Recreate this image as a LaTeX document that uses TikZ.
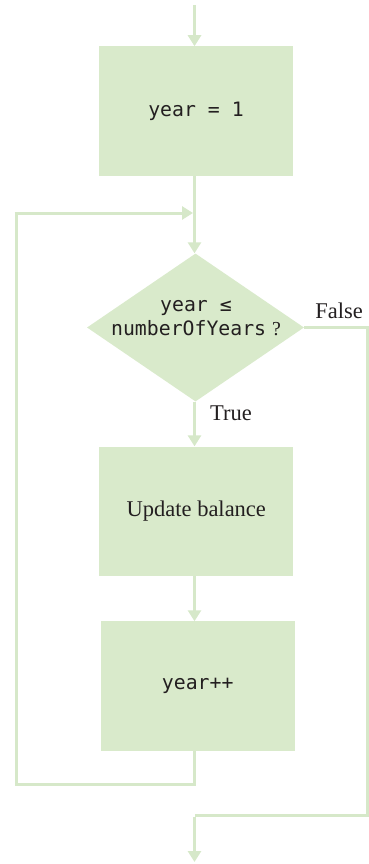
\documentclass[tikz,border=0pt]{standalone}
\usepackage{fontspec}
\setmainfont{Liberation Serif}
\setmonofont{DejaVu Sans Mono}
\usetikzlibrary{arrows.meta,shapes.geometric}
\definecolor{boxg}{HTML}{D9EACB}
\definecolor{lineg}{HTML}{D6E8C9}
\definecolor{ink}{HTML}{231F20}
\begin{document}
\begin{tikzpicture}[x=1pt,y=-1pt,
  stepbox/.style={fill=boxg, draw=none, minimum width=194pt, minimum height=129.5pt, inner sep=0pt, text=ink},
  codefont/.style={font=\fontsize{19.8}{24}\selectfont\ttfamily},
  serif/.style={font=\fontsize{22.5}{24}\selectfont\rmfamily},
  decision/.style={diamond, fill=boxg, draw=none, minimum width=217pt, minimum height=148pt, inner sep=0pt},
  flow/.style={draw=lineg, line width=3pt, -{Triangle[width=13pt,length=11pt]}},
  conn/.style={draw=lineg, line width=3pt}
]
\useasboundingbox (0,0) rectangle (369,864);

\coordinate (start) at (194.5,5);
\node[stepbox, codefont] (init) at (196,111.2) {year = 1};
\node[decision] (cond) at (195.5,327.5) {};
\node[codefont, text=ink, align=center, inner sep=0pt] (condtext) at (196,318)
  {year ≤\\numberOfYears\hspace{0.3em}{\rmfamily ?}};
\node[stepbox, serif] (update) at (196.3,511.3) {Update balance};
\node[stepbox, codefont] (incr) at (197.7,686.2) {year++};

\node[serif, text=ink, inner sep=0pt] (false) at (339,311) {False};
\node[serif, text=ink, inner sep=0pt] (true) at (231,413) {True};

\coordinate (joinpt) at (194.5,213);
\coordinate (loopbl) at (16,784);
\coordinate (looptl) at (16,213);
\coordinate (loopbr) at (194.5,784);
\coordinate (falsetr) at (367.5,327.5);
\coordinate (falsebr) at (367.5,815);
\coordinate (falsebl) at (194.5,815);
\coordinate (endpt) at (194.5,862);

\draw[flow] (start) -- (start |- init.north);
\draw[flow] (init.south -| start) -- (start |- cond.north);
\draw[flow] (cond.south -| start) -- (start |- update.north);
\draw[flow] (update.south -| start) -- (start |- incr.north);
\draw[conn] (incr.south -| start) -- (loopbr) -- (loopbl) -- (looptl);
\draw[flow] ([xshift=-1.5pt]looptl) -- ([xshift=-1.5pt]joinpt);
\draw[conn] (cond.east) -- (falsetr) -- (falsebr) -- (falsebl);
\draw[flow] ([yshift=-1.5pt]falsebl) -- (endpt);
\end{tikzpicture}
\end{document}
